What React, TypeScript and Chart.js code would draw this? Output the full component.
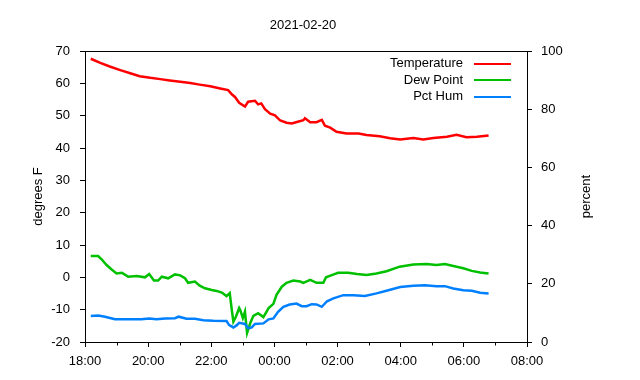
import React, { useEffect, useRef } from "react";
import { Chart, registerables } from "chart.js";

Chart.register(...registerables);

const TITLE = "2021-02-20";
const LEFT_TITLE = "degrees F";
const RIGHT_TITLE = "percent";
const X_TICK_LABELS = ["18:00", "20:00", "22:00", "00:00", "02:00", "04:00", "06:00", "08:00"];
const LEFT_MIN = -20;
const LEFT_MAX = 70;
const RIGHT_MIN = 0;
const RIGHT_MAX = 100;

const tempLabel = "Temperature";
const tempTimes = [
  "18:11", "18:29", "18:47", "19:07", "19:26", "19:44", "20:04", "20:23", "20:41", "21:01",
  "21:20", "21:38", "21:58", "22:17", "22:32", "22:39", "22:45", "22:53", "23:04", "23:10",
  "23:23", "23:29", "23:35", "23:42", "23:52", "00:01", "00:11", "00:23", "00:33", "00:46",
  "00:55", "00:58", "01:08", "01:20", "01:30", "01:36", "01:46", "01:58", "02:17", "02:40",
  "02:55", "03:20", "03:40", "03:59", "04:24", "04:43", "05:02", "05:28", "05:46", "06:05",
  "06:25", "06:47",
];
const tempValues = [
  67.6, 66.3, 65.2, 64.1, 63.1, 62.2, 61.7, 61.3, 60.9, 60.5,
  60.1, 59.6, 59.1, 58.4, 57.9, 56.6, 55.8, 54.0, 52.8, 54.3,
  54.6, 53.5, 53.8, 52.0, 50.6, 50.1, 48.5, 47.8, 47.6, 48.2,
  48.6, 49.2, 48.0, 48.0, 48.7, 46.9, 46.3, 45.0, 44.5, 44.5,
  44.0, 43.6, 43.0, 42.6, 43.1, 42.6, 43.1, 43.5, 44.1, 43.3,
  43.5, 43.9,
];

const dewLabel = "Dew Point";
const dewTimes = [
  "18:11", "18:25", "18:32", "18:41", "18:50", "19:00", "19:10", "19:22", "19:38", "19:54",
  "20:02", "20:11", "20:19", "20:26", "20:38", "20:51", "21:01", "21:10", "21:16", "21:29",
  "21:38", "21:48", "22:01", "22:10", "22:20", "22:29", "22:35", "22:39", "22:42", "22:47",
  "22:53", "22:55", "23:00", "23:04", "23:08", "23:14", "23:20", "23:29", "23:39", "23:49",
  "23:58", "00:04", "00:14", "00:23", "00:36", "00:49", "00:55", "01:08", "01:20", "01:33",
  "01:38", "01:49", "02:01", "02:20", "02:37", "02:55", "03:14", "03:33", "03:58", "04:24",
  "04:49", "05:08", "05:24", "05:40", "05:59", "06:15", "06:31", "06:47",
];
const dewValues = [
  6.6, 6.6, 5.5, 3.8, 2.5, 1.2, 1.4, 0.2, 0.4, 0.0,
  1.0, -1.0, -1.0, 0.2, -0.3, 0.9, 0.6, -0.3, -1.7, -1.3,
  -2.6, -3.4, -3.9, -4.2, -4.7, -5.8, -4.9, -10.1, -13.7, -12.1,
  -9.5, -10.1, -12.6, -10.6, -17.2, -14.2, -11.9, -11.1, -12.3, -9.5,
  -8.2, -5.4, -2.9, -1.7, -1.0, -1.3, -1.7, -0.8, -1.7, -1.7,
  0.0, 0.7, 1.4, 1.4, 1.0, 0.7, 1.2, 1.9, 3.3, 4.0,
  4.1, 3.8, 4.1, 3.5, 2.8, 2.0, 1.5, 1.2,
];

const humLabel = "Pct Hum";
const humTimes = [
  "18:11", "18:25", "18:38", "18:57", "19:22", "19:47", "20:02", "20:16", "20:32", "20:51",
  "20:58", "21:13", "21:29", "21:45", "22:04", "22:29", "22:34", "22:42", "22:48", "22:53",
  "23:04", "23:10", "23:17", "23:23", "23:39", "23:49", "23:58", "00:07", "00:17", "00:29",
  "00:42", "00:52", "01:01", "01:11", "01:20", "01:30", "01:40", "01:52", "02:11", "02:30",
  "02:52", "03:14", "03:33", "03:59", "04:24", "04:46", "05:08", "05:24", "05:40", "05:59",
  "06:15", "06:31", "06:47",
];
const humValues = [
  8.9, 9.1, 8.7, 7.8, 7.8, 7.8, 8.1, 7.8, 8.1, 8.2,
  8.7, 8.0, 8.0, 7.5, 7.3, 7.2, 5.8, 5.0, 5.7, 6.6,
  6.2, 4.7, 5.0, 6.2, 6.4, 7.8, 8.1, 10.4, 12.1, 12.9,
  13.2, 12.3, 12.3, 13.0, 12.9, 12.1, 14.0, 15.0, 16.1, 16.1,
  15.8, 16.7, 17.6, 18.9, 19.3, 19.5, 19.2, 19.2, 18.4, 17.8,
  17.6, 16.9, 16.7,
];

const FONT = "'Liberation Sans', Arial, Helvetica, sans-serif";
const RED = "#ff0000";
const GREEN = "#00c000";
const BLUE = "#0080ff";

function hoursSinceStart(t: string): number {
  const [hh, mm] = t.split(":").map(Number);
  let h = hh + mm / 60 - 18;
  if (h < 0) h += 24;
  return h;
}

function toPoints(times: string[], values: number[]) {
  return times.map((t, i) => ({ x: hoursSinceStart(t), y: values[i] }));
}

const decorPlugin = {
  id: "gnuplotDecor",
  afterDraw(chart: any) {
    const { ctx, chartArea } = chart;
    const { left, right, top, bottom } = chartArea;
    ctx.save();
    // frame
    ctx.strokeStyle = "#000";
    ctx.lineWidth = 1;
    ctx.strokeRect(Math.round(left) + 0.5, Math.round(top) + 0.5, Math.round(right - left), Math.round(bottom - top));
    // minor x ticks (every hour)
    const xs = chart.scales.x;
    ctx.beginPath();
    for (let h = 1; h < 14; h += 2) {
      const px = Math.round(xs.getPixelForValue(h)) + 0.5;
      ctx.moveTo(px, Math.round(bottom) + 0.5);
      ctx.lineTo(px, Math.round(bottom) + 3.5);
    }
    ctx.stroke();
    // title
    ctx.fillStyle = "#000";
    ctx.font = `13px ${FONT}`;
    ctx.textAlign = "center";
    ctx.textBaseline = "middle";
    ctx.fillText(TITLE, (left + right) / 2 - 3, 25);
    // axis titles
    const midY = (top + bottom) / 2;
    ctx.save();
    ctx.translate(38, midY);
    ctx.rotate(-Math.PI / 2);
    ctx.fillText(LEFT_TITLE, 0, 0);
    ctx.restore();
    ctx.save();
    ctx.translate(586, midY);
    ctx.rotate(-Math.PI / 2);
    ctx.fillText(RIGHT_TITLE, 0, 0);
    ctx.restore();
    // legend
    const rows = chart.data.datasets;
    ctx.textAlign = "right";
    rows.forEach((ds: any, i: number) => {
      const y = 63.5 + i * 16.7;
      ctx.fillStyle = "#000";
      ctx.fillText(ds.label, 463, y);
      ctx.strokeStyle = ds.borderColor;
      ctx.lineWidth = 2;
      ctx.beginPath();
      ctx.moveTo(474, Math.round(y));
      ctx.lineTo(511, Math.round(y));
      ctx.stroke();
    });
    ctx.restore();
  },
};

export default function App() {
  const canvasRef = useRef<HTMLCanvasElement | null>(null);

  useEffect(() => {
    const canvas = canvasRef.current;
    if (!canvas) return;
    const tickFont = { family: FONT, size: 13 };
    const chart = new Chart(canvas, {
      type: "line",
      data: {
        datasets: [
          {
            label: tempLabel,
            data: toPoints(tempTimes, tempValues),
            borderColor: RED,
            backgroundColor: RED,
            borderWidth: 2.5,
            pointRadius: 0,
            yAxisID: "y",
            order: 2,
          },
          {
            label: dewLabel,
            data: toPoints(dewTimes, dewValues),
            borderColor: GREEN,
            backgroundColor: GREEN,
            borderWidth: 2.5,
            pointRadius: 0,
            yAxisID: "y",
            order: 1,
          },
          {
            label: humLabel,
            data: toPoints(humTimes, humValues),
            borderColor: BLUE,
            backgroundColor: BLUE,
            borderWidth: 2.5,
            pointRadius: 0,
            yAxisID: "y1",
            order: 0,
          },
        ],
      } as any,
      options: {
        responsive: false,
        devicePixelRatio: 1,
        animation: false,
        layout: { padding: { top: 51, left: 0, right: 0, bottom: 0 } },
        plugins: {
          legend: { display: false },
          title: { display: false },
          tooltip: { enabled: false },
        },
        scales: {
          x: {
            type: "linear",
            position: "bottom",
            min: 0,
            max: 14,
            afterFit: (s: any) => {
              s.height = 38;
            },
            ticks: {
              stepSize: 2,
              autoSkip: false,
              maxRotation: 0,
              color: "#000",
              font: tickFont,
              padding: 7,
              callback: (v: any) => X_TICK_LABELS[Math.round(Number(v) / 2)] ?? "",
            },
            grid: { drawOnChartArea: false, drawTicks: true, tickLength: 5, color: "#000", lineWidth: 1 },
            border: { display: false },
          },
          y: {
            type: "linear",
            position: "left",
            min: LEFT_MIN,
            max: LEFT_MAX,
            afterFit: (s: any) => {
              s.width = 85;
            },
            ticks: { stepSize: 10, color: "#000", font: tickFont, padding: 10 },
            grid: { drawOnChartArea: false, drawTicks: true, tickLength: 5, color: "#000", lineWidth: 1 },
            border: { display: false },
          },
          y1: {
            type: "linear",
            position: "right",
            min: RIGHT_MIN,
            max: RIGHT_MAX,
            afterFit: (s: any) => {
              s.width = 113;
            },
            ticks: { stepSize: 20, color: "#000", font: tickFont, padding: 9 },
            grid: { drawOnChartArea: false, drawTicks: true, tickLength: 5, color: "#000", lineWidth: 1 },
            border: { display: false },
          },
        },
      } as any,
      plugins: [decorPlugin],
    });
    return () => chart.destroy();
  }, []);

  return (
    <div style={{ position: "absolute", left: 0, top: 0, width: 640, height: 380, background: "#fff" }}>
      <canvas ref={canvasRef} width={640} height={380} style={{ display: "block" }} />
    </div>
  );
}
